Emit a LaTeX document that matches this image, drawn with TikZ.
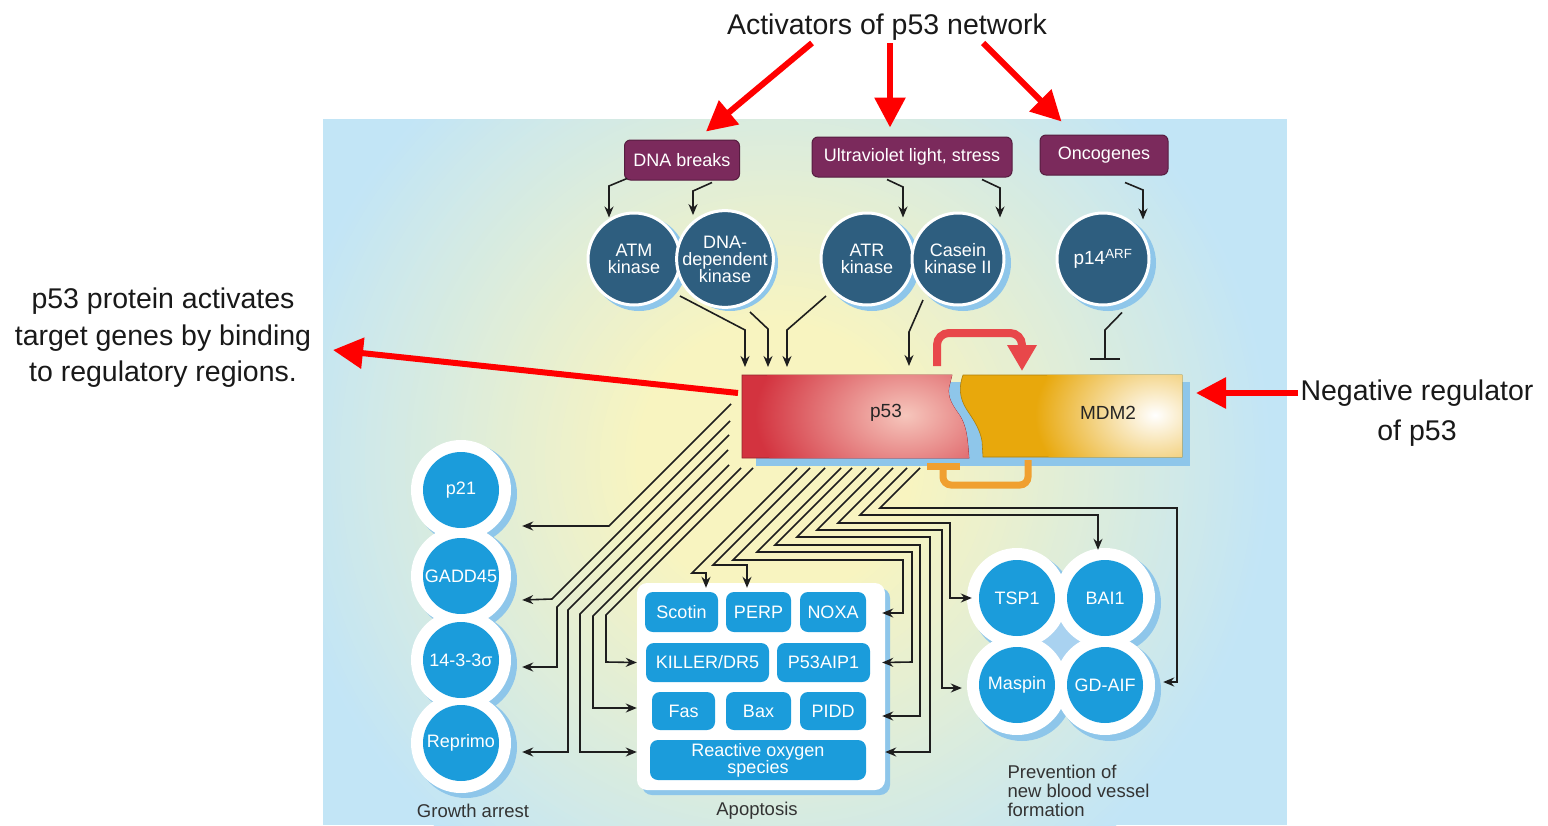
\documentclass[tikz,border=0pt]{standalone}
\usepackage{fontspec}
\setmainfont{Liberation Sans}
\usetikzlibrary{arrows.meta,calc}
\definecolor{purp}{HTML}{7B2A5C}
\definecolor{darkb}{HTML}{2E5E7F}
\definecolor{brightb}{HTML}{1B9CDB}
\definecolor{shadowb}{HTML}{8EC6EA}
\definecolor{panelb}{HTML}{C2E5F6}
\definecolor{panely}{HTML}{F8F4C0}
\definecolor{p53red}{HTML}{D3333F}
\definecolor{p53hi}{HTML}{F6C6BC}
\definecolor{mdmor}{HTML}{E8A80C}
\definecolor{redarrow}{HTML}{E8474A}
\definecolor{orbr}{HTML}{F0A030}
\definecolor{annred}{HTML}{FF0000}
\definecolor{glowb}{HTML}{A9D2F0}
\definecolor{linec}{HTML}{1E1E1E}
\newcommand\labf{\fontsize{18}{17}\selectfont}
\newcommand\annf{\fontsize{28.5}{36.5}\selectfont}
\begin{document}
\begin{tikzpicture}[x=1pt,y=-1pt,
  darkc/.style={circle, fill=darkb, draw=white, line width=3pt, minimum size=92pt, inner sep=0pt, text=white, align=center, font=\labf},
  bluec/.style={circle, fill=brightb, minimum size=76pt, inner sep=0pt, text=white, align=center, font=\labf},
  pbox/.style={rounded corners=6pt, fill=purp, draw=purp!70!black, line width=1pt, text=white, minimum height=40pt, inner sep=0pt, font=\labf},
  abox/.style={rounded corners=8pt, fill=brightb, text=white, inner sep=0pt, font=\labf, align=center},
  conn/.style={draw=linec, line width=1.6pt, -{Stealth[length=11pt,width=9pt]}},
  ann/.style={draw=annred, line width=6pt, -{Triangle[length=30pt,width=30pt]}},
  boxanchor/.style={inner sep=0pt, outer sep=0pt}]
\useasboundingbox (0,0) rectangle (1548,825);
\fill[white] (0,0) rectangle (1548,825);
% background panel
\begin{scope}
  \clip (323,119) rectangle (1287,825);
  \fill[panelb] (323,119) rectangle (1287,825);
  \foreach \i in {0,...,80} {
    \pgfmathsetmacro\rr{500-5*\i}
    \pgfmathtruncatemacro\pp{min(100,\i*100/72)}
    \fill[panely!\pp!panelb] (775,460) circle (\rr pt);
  }
\end{scope}

% annotation texts
\node[font=\annf, text=black!90] (act) at (887,27) {Activators of p53 network};
\node[font=\annf, text=black!90, align=center] (lefttxt) at (163,338) {p53 protein activates\\target genes by binding\\to regulatory regions.};
\node[font=\fontsize{28.5}{40}\selectfont, text=black!90, align=center] (righttxt) at (1417,413) {Negative regulator\\of p53};

% purple boxes
\node[pbox, minimum width=115pt] (dnab) at (682,160) {DNA breaks};
\node[pbox, minimum width=200pt] (uv) at (912,157) {Ultraviolet light, stress};
\node[pbox, minimum width=128pt] (onco) at (1104,155) {Oncogenes};

% dark circles
\fill[shadowb] (639,263) circle (48pt);
\node[darkc] (atm) at (634,259) {ATM\\kinase};
\fill[shadowb] (730,263) circle (48pt);
\node[darkc] (dnadep) at (725,259) {DNA-\\dependent\\kinase};
\fill[shadowb] (872,263) circle (48pt);
\node[darkc] (atr) at (867,259) {ATR\\kinase};
\fill[shadowb] (963,263) circle (48pt);
\node[darkc] (casein) at (958,259) {Casein\\kinase II};
\fill[shadowb] (1108,263) circle (48pt);
\node[darkc, font=\fontsize{19}{19}\selectfont] (p14) at (1103,259) {p14\textsuperscript{ARF}};

% p53 / MDM2
\fill[shadowb] (756,382) rectangle (1190,466);
\path[fill=p53red, draw=p53red!70!black, line width=0.6pt] (742,375) -- (952,375) -- (949,387) .. controls (947,398) and (953,406) .. (960,416) .. controls (966,426) and (967,436) .. (968,446) -- (969,458) -- (742,458) -- cycle;
\begin{scope}
  \clip (742,375) -- (952,375) -- (949,387) .. controls (947,398) and (953,406) .. (960,416) .. controls (966,426) and (967,436) .. (968,446) -- (969,458) -- (742,458) -- cycle;
  \shade[inner color=p53hi, outer color=p53red] (905,415) ellipse (150pt and 100pt);
\end{scope}
\path[fill=mdmor, draw=mdmor!75!black, line width=0.6pt] (963,375) -- (1182,375) -- (1182,457) -- (983,457) -- (982,441) .. controls (980,430) and (975,422) .. (969,413) .. controls (962,403) and (957,392) .. (963,375) -- cycle;
\begin{scope}
  \clip (963,375) -- (1182,375) -- (1182,457) -- (983,457) -- (982,441) .. controls (980,430) and (975,422) .. (969,413) .. controls (962,403) and (957,392) .. (963,375) -- cycle;
  \shade[inner color=white, outer color=mdmor] (1155,415) ellipse (120pt and 90pt);
\end{scope}
\node[boxanchor, minimum width=227pt, minimum height=83pt] (p53) at (855.5,416.5) {};
\node[boxanchor, minimum width=219pt, minimum height=82pt] (mdm2) at (1072.5,416) {};
\node[font=\fontsize{19}{19}\selectfont, text=black!85] (p53lbl) at (886,413) {p53};
\node[font=\fontsize{19}{19}\selectfont, text=black!85] (mdmlbl) at (1108,413) {MDM2};

% feedback loop
\draw[redarrow, line width=8pt, rounded corners=12pt, -{Triangle[length=26pt,width=28pt]}] ([shift={(81.5,-9)}]p53.north) -- (937,333) -- (1022,333) -- ([shift={(-50.5,-4)}]mdm2.north);
\draw[orbr, line width=7pt, rounded corners=8pt] ([shift={(-44.5,3)}]mdm2.south) -- (1028,485) -- (943,485) -- ([shift={(87.5,8)}]p53.south);
\draw[orbr, line width=7pt] (927,466) -- (960,466);

% left column circles
\foreach \cy in {490,576,660,743} {\fill[shadowb] (466,\cy+4) circle (51pt);}
\foreach \cy in {490,576,660,743} {\fill[white] (461,\cy) circle (50pt);}
\node[bluec] (p21) at (461,490) {p21};
\node[bluec] (gadd) at (461,576) {GADD45};
\node[bluec] (s1433) at (461,660) {14-3-3σ};
\node[bluec] (reprimo) at (461,743) {Reprimo};

% apoptosis panel
\fill[shadowb, rounded corners=10pt] (642,588) rectangle (890,795);
\fill[white, rounded corners=10pt] (637,583) rectangle (885,790);
\node[abox, minimum width=73pt, minimum height=40pt] (scotin) at (681.5,612) {Scotin};
\node[abox, minimum width=65pt, minimum height=40pt] (perp) at (758.5,612) {PERP};
\node[abox, minimum width=66pt, minimum height=40pt] (noxa) at (833,612) {NOXA};
\node[abox, minimum width=123pt, minimum height=39pt] (killer) at (707.5,662.5) {KILLER/DR5};
\node[abox, minimum width=93pt, minimum height=39pt] (aip) at (823.5,662.5) {P53AIP1};
\node[abox, minimum width=63pt, minimum height=38pt] (fas) at (683.5,711) {Fas};
\node[abox, minimum width=65pt, minimum height=38pt] (bax) at (758.5,711) {Bax};
\node[abox, minimum width=66pt, minimum height=38pt] (pidd) at (833,711) {PIDD};
\node[abox, minimum width=216pt, minimum height=40pt] (ros) at (758,760) {Reactive oxygen\\species};

% right cluster
\foreach \cx/\cy in {1017/598,1105/598,1017/685,1105/685} {\fill[shadowb] (\cx+5,\cy+5) circle (51pt);}
\fill[glowb] (1061,641) circle (30pt);
\foreach \cx/\cy in {1017/598,1105/598,1017/685,1105/685} {\fill[white] (\cx,\cy) circle (50pt);}
\node[bluec] (tsp1) at (1017,598) {TSP1};
\node[bluec] (bai1) at (1105,598) {BAI1};
\node[bluec] (maspin) at (1017,685) {Maspin};
\node[bluec] (gdaif) at (1105,685) {GD-AIF};

% bottom labels
\node[font=\fontsize{18.5}{19}\selectfont, text=black!80] (ga) at (473,811) {Growth arrest};
\node[font=\fontsize{18.5}{19}\selectfont, text=black!80] (apo) at (757,811) {Apoptosis};
\node[font=\fontsize{18.5}{19}\selectfont, text=black!80, anchor=west, align=left] (prev) at (1004,791) {Prevention of\\new blood vessel\\formation};

% activator arrows
\draw[conn] ([shift={(-55,-2)}]dnab.south) -- (609,186) -- ([shift={(-25,6)}]atm.north);
\draw[conn] ([shift={(30,2)}]dnab.south) -- (693,191) -- ([shift={(-32,6)}]dnadep.north);
\draw[conn] ([shift={(-25,2)}]uv.south) -- (903,187) -- ([shift={(36,6)}]atr.north);
\draw[conn] ([shift={(70,2)}]uv.south) -- (1000,188) -- ([shift={(42,6)}]casein.north);
\draw[conn] ([shift={(21,7)}]onco.south) -- (1143,190) -- ([shift={(40,8)}]p14.north);
\draw[draw=linec, line width=1.6pt, -{Bar[width=30pt]}] ([shift={(19,6)}]p14.south) -- (1105,330) -- ([shift={(32.5,-15)}]mdm2.north);

\draw[conn] ([shift={(46,37)}]atm.center) -- (745,330) -- ([shift={(3,-8)}]p53.north west);
\draw[conn] ([shift={(25,53)}]dnadep.center) -- (768,329) -- ([shift={(26,-8)}]p53.north west);
\draw[conn] ([shift={(-41,37)}]atr.center) -- (787,330) -- ([shift={(45,-8)}]p53.north west);
\draw[conn] ([shift={(-35,41)}]casein.center) -- (909,332) -- ([shift={(167,-9)}]p53.north west);

% p53 outputs
\coordinate (o1) at (731,404);
\coordinate (o2) at (730,421);
\coordinate (o3) at (729,435);
\coordinate (o4) at (728,450);
\coordinate (o5) at (729,465);
\coordinate (o6) at (741,468);
\coordinate (o7) at (753,468);
\coordinate (oS) at (797,468);
\coordinate (oP) at (810,468);
\coordinate (oN) at (825,468);
\coordinate (oA) at (841,468);
\coordinate (oD) at (852,468);
\coordinate (oR) at (866,468);
\coordinate (oM) at (879,468);
\coordinate (oT) at (893,468);
\coordinate (oB) at (907,468);
\coordinate (oG) at (920,468);
\draw[conn] (o1) -- (609,526) -- ([shift={(23,36)}]p21.east);
\draw[conn] (o2) -- (552,599) -- ([shift={(23,24)}]gadd.east);
\draw[conn] (o3) -- (557,607) -- (557,667) -- ([shift={(23,7)}]s1433.east);
\draw[conn] (o4) -- (568,610) -- (568,752) -- ([shift={(23,9)}]reprimo.east);
\draw[conn] (o5) -- (580,614) -- (580,752) -- ([shift={(-13,-8)}]ros.west);
\draw[conn] (o6) -- (593,616) -- (593,708) -- ([shift={(-15,-3)}]fas.west);
\draw[conn] (o7) -- (606,615) -- (606,662) -- ([shift={(-9,0)}]killer.west);
\draw[conn] (oS) -- (692,573) -- (706,573) -- ([shift={(24.5,-4)}]scotin.north);
\draw[conn] (oP) -- (713,565) -- (747,565) -- ([shift={(-11.5,-4)}]perp.north);
\draw[conn] (oN) -- (733,560) -- (903,560) -- (903,613) -- ([shift={(16,1)}]noxa.east);
\draw[conn] (oA) -- (757,552) -- (912,552) -- (912,662) -- ([shift={(12,0)}]aip.east);
\draw[conn] (oD) -- (775,545) -- (920,545) -- (920,716) -- ([shift={(16,5)}]pidd.east);
\draw[conn] (oR) -- (797,537) -- (930,537) -- (930,752) -- ([shift={(19,-8)}]ros.east);
\draw[conn] (oM) -- (817,530) -- (942,530) -- (942,688) -- ([shift={(-17,3)}]maspin.west);
\draw[conn] (oT) -- (838,523) -- (950,523) -- (950,598) -- ([shift={(-7,0)}]tsp1.west);
\draw[conn] (oB) -- (860,515) -- (1098,515) -- ([shift={(-7,-10)}]bai1.north);
\draw[conn] (oG) -- (880,508) -- (1177,508) -- (1177,682) -- ([shift={(20,-3)}]gdaif.east);

% annotation arrows
\draw[ann] ([shift={(-75,16)}]act.center) -- ([shift={(-34,-8)}]dnab.north east);
\draw[ann] ([shift={(3,16)}]act.center) -- ([shift={(-22,-9)}]uv.north);
\draw[ann] ([shift={(96,16)}]act.center) -- ([shift={(22,-13)}]onco.north west);
\draw[ann] ([shift={(-4,-23.5)}]p53.west) -- ([shift={(170,12)}]lefttxt.center);
\draw[ann] ([shift={(-119,-20)}]righttxt.center) -- ([shift={(14,-23)}]mdm2.east);
\end{tikzpicture}
\end{document}
